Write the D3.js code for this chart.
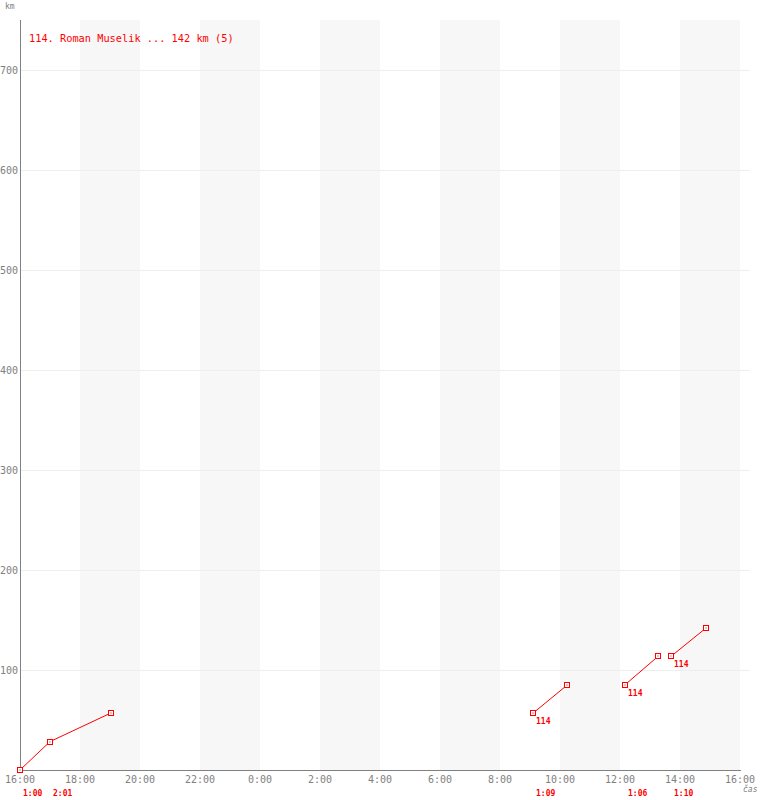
<!DOCTYPE html>
<html><head><meta charset="utf-8">
<script src="https://cdn.jsdelivr.net/npm/d3@7"></script>
<style>body{margin:0;background:#fff}svg{display:block}text{font-family:"DejaVu Sans Mono",monospace}</style>
</head><body><svg id="c" width="760" height="800"></svg>
<script>
const title = "114. Roman Muselik ... 142 km (5)";
const riderLabel = "114";
const segments = [
  [["16:00",0],["17:00",28.4],["19:01",56.8]],
  [["09:06",56.8],["10:15",85.2]],
  [["12:10",85.2],["13:16",113.6]],
  [["13:42",113.6],["14:52",142]]
];
const lapStarts = ["16:00","17:00","09:06","12:10","13:42"];
const lapDurations = ["1:00","2:01","1:09","1:06","1:10"];
const xTickLabels = ["16:00","18:00","20:00","22:00","0:00","2:00","4:00","6:00","8:00","10:00","12:00","14:00","16:00"];
const yTicks = [100,200,300,400,500,600,700];

function toDate(s){
  const [h,m] = s.split(":").map(Number);
  const day = h >= 16 ? 1 : 2;
  return new Date(2000,0,day,h,m);
}
const t0 = new Date(2000,0,1,16,0), t1 = new Date(2000,0,2,16,0);
const svg = d3.select("#c");
const x = d3.scaleTime().domain([t0,t1]).range([20,740]);
const y = d3.scaleLinear().domain([0,700]).range([770,70]);
const red = "#ff0000", grey = "#808080";

// bands
const bandStarts = d3.range(2,24,4).map(h => d3.timeHour.offset(t0,h));
svg.selectAll("rect.band").data(bandStarts).join("rect")
  .attr("x", d => x(d)).attr("y", 20)
  .attr("width", d => x(d3.timeHour.offset(d,2)) - x(d)).attr("height", 750)
  .attr("fill", "#f7f7f7");
// grid
svg.selectAll("line.grid").data(yTicks).join("line")
  .attr("x1",20).attr("x2",750).attr("y1",d=>y(d)+0.5).attr("y2",d=>y(d)+0.5)
  .attr("stroke","#eeeeee");
// axes
svg.append("line").attr("x1",20.5).attr("x2",20.5).attr("y1",20).attr("y2",770).attr("stroke",grey);
svg.append("line").attr("x1",20).attr("x2",741).attr("y1",770.5).attr("y2",770.5).attr("stroke",grey);
svg.selectAll("text.yt").data(yTicks).join("text")
  .attr("x",18).attr("y",d=>y(d)+4).attr("text-anchor","end")
  .attr("font-size",10).attr("fill",grey).text(d=>d);
const xTicks = d3.range(0,25,2).map(h => d3.timeHour.offset(t0,h));
svg.selectAll("text.xt").data(xTicks).join("text")
  .attr("x",d=>x(d)).attr("y",783).attr("text-anchor","middle")
  .attr("font-size",10).attr("fill",grey).text((d,i)=>xTickLabels[i]);
svg.append("text").attr("x",5).attr("y",9).attr("font-size",8).attr("fill",grey).text("km");
svg.append("text").attr("x",743).attr("y",792).attr("font-size",8).attr("fill",grey).attr("font-style","italic").text("čas");
// title
svg.append("text").attr("x",29).attr("y",42).attr("font-size",10.3).attr("fill",red).text(title);
// lines
const line = d3.line().x(d=>x(toDate(d[0]))).y(d=>y(d[1]));
svg.selectAll("path.seg").data(segments).join("path")
  .attr("d",line).attr("fill","none").attr("stroke",red).attr("stroke-width",1);
// markers
const pts = segments.flat();
svg.selectAll("rect.m").data(pts).join("rect")
  .attr("x",d=>Math.round(x(toDate(d[0])))-2.5).attr("y",d=>Math.round(y(d[1]))-2.5)
  .attr("width",5).attr("height",5).attr("fill","#fff").attr("stroke",red);
svg.selectAll("rect.md").data(pts).join("rect")
  .attr("x",d=>Math.round(x(toDate(d[0])))-0.5).attr("y",d=>Math.round(y(d[1]))-0.5)
  .attr("width",1).attr("height",1).attr("fill",red);
// rider labels
svg.selectAll("text.rl").data(segments.slice(1)).join("text")
  .attr("x",d=>x(toDate(d[0][0]))+3).attr("y",d=>y(d[0][1])+11)
  .attr("font-size",8).attr("font-weight","bold").attr("fill",red).text(riderLabel);
// durations
svg.selectAll("text.dur").data(lapStarts).join("text")
  .attr("x",d=>x(toDate(d))+3).attr("y",796)
  .attr("font-size",8).attr("font-weight","bold").attr("fill",red).text((d,i)=>lapDurations[i]);
</script></body></html>
